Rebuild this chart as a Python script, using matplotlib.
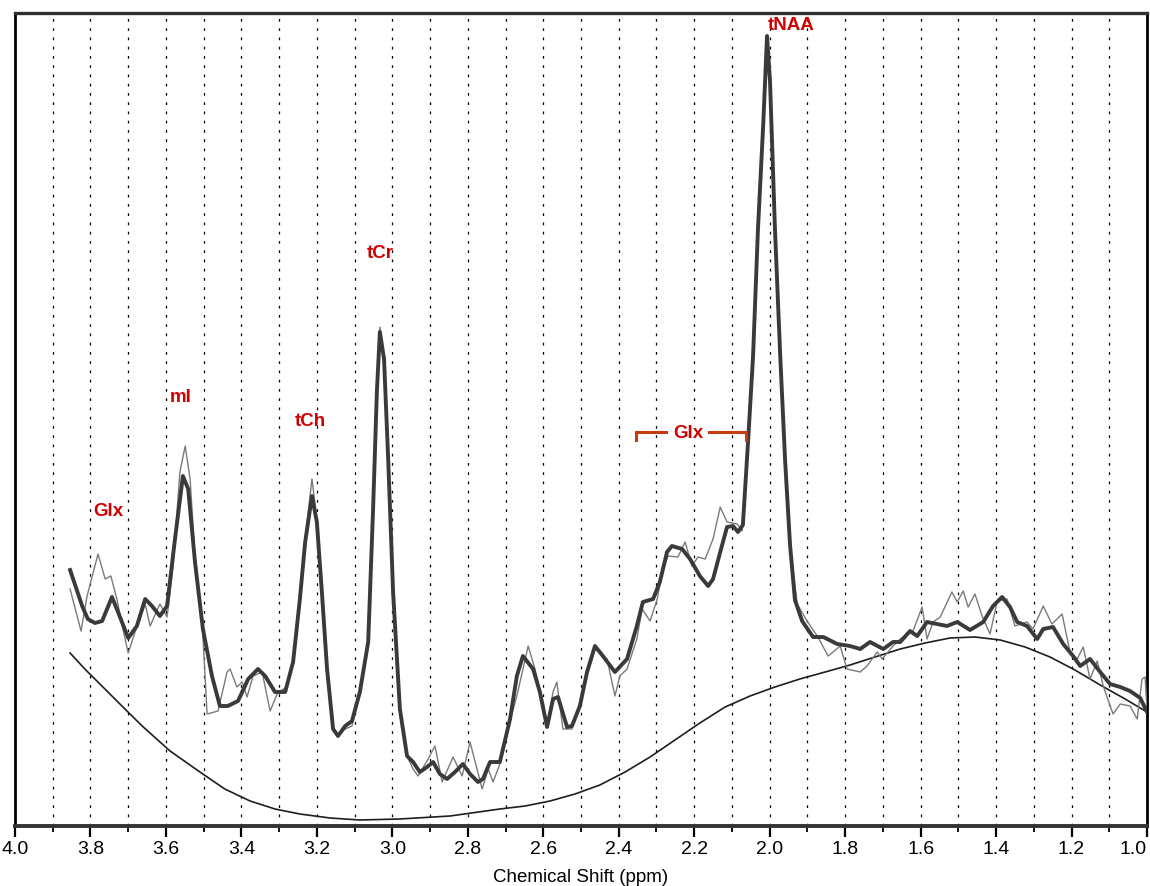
import numpy as np
import matplotlib
matplotlib.use("Agg")
import matplotlib.pyplot as plt
from matplotlib.ticker import FixedLocator

plt.rcParams['font.family'] = ['Liberation Sans', 'DejaVu Sans']

# ---------------- data (chemical shift in ppm, intensity in a.u.) ----------------
fit_ppm = [3.854, 3.822, 3.807, 3.788, 3.769, 3.743, 3.727, 3.700, 3.677, 3.655, 3.637, 3.616,
           3.597, 3.576, 3.555, 3.541, 3.523, 3.502, 3.478, 3.457, 3.436, 3.409, 3.382, 3.356,
           3.337, 3.311, 3.284, 3.263, 3.245, 3.231, 3.213, 3.200, 3.186, 3.173, 3.157, 3.144,
           3.125, 3.107, 3.086, 3.064, 3.051, 3.041, 3.033, 3.022, 3.011, 2.998, 2.980, 2.961,
           2.945, 2.927, 2.908, 2.892, 2.874, 2.855, 2.834, 2.813, 2.794, 2.773, 2.760, 2.741,
           2.715, 2.688, 2.670, 2.654, 2.627, 2.609, 2.590, 2.574, 2.561, 2.537, 2.524, 2.503,
           2.484, 2.463, 2.442, 2.410, 2.378, 2.352, 2.336, 2.309, 2.291, 2.272, 2.259, 2.232,
           2.211, 2.185, 2.163, 2.150, 2.131, 2.113, 2.097, 2.084, 2.071, 2.057, 2.044, 2.031,
           2.017, 2.007, 1.999, 1.986, 1.972, 1.959, 1.946, 1.933, 1.914, 1.885, 1.858, 1.821,
           1.787, 1.760, 1.734, 1.699, 1.673, 1.654, 1.628, 1.609, 1.583, 1.556, 1.530, 1.503,
           1.469, 1.434, 1.408, 1.384, 1.363, 1.344, 1.318, 1.291, 1.275, 1.249, 1.222, 1.196,
           1.177, 1.151, 1.124, 1.098, 1.071, 1.045, 1.018, 1.000]
fit_int = [25.6, 22.0, 20.7, 20.3, 20.5, 22.9, 21.4, 18.8, 20.0, 22.7, 22.0, 21.0,
           22.0, 28.7, 35.0, 33.7, 26.4, 19.7, 15.0, 12.0, 12.0, 12.5, 14.7, 15.7,
           15.0, 13.4, 13.4, 16.4, 22.7, 28.4, 33.0, 30.4, 23.0, 15.7, 9.7, 9.0,
           10.0, 10.5, 13.4, 18.4, 31.7, 43.4, 49.4, 46.7, 36.7, 23.4, 11.7, 7.0,
           6.4, 5.4, 5.9, 6.4, 5.2, 4.7, 5.4, 6.2, 5.2, 4.4, 4.7, 6.4,
           6.4, 10.7, 15.0, 17.0, 15.7, 13.4, 9.9, 12.7, 12.9, 9.9, 10.0, 12.0,
           15.4, 18.0, 17.0, 15.4, 16.7, 20.0, 22.4, 22.7, 24.4, 27.4, 28.0, 27.7,
           26.7, 25.0, 24.0, 24.7, 27.4, 29.9, 30.0, 29.4, 30.1, 38.6, 47.0, 59.7,
           70.2, 79.0, 74.4, 59.7, 47.0, 36.5, 28.1, 22.6, 20.5, 18.9, 18.9, 18.2,
           18.0, 17.7, 18.4, 17.7, 18.4, 18.4, 19.5, 19.0, 20.4, 20.2, 20.0, 20.4,
           19.6, 20.4, 22.0, 22.9, 21.9, 20.4, 20.0, 18.7, 19.7, 19.9, 18.2, 17.0,
           16.0, 16.7, 15.4, 14.2, 13.9, 13.5, 12.8, 11.4]

raw_ppm = [3.854, 3.825, 3.809, 3.780, 3.761, 3.746, 3.730, 3.714, 3.700, 3.682, 3.655, 3.642,
           3.616, 3.597, 3.581, 3.563, 3.549, 3.536, 3.523, 3.504, 3.491, 3.462, 3.438, 3.430,
           3.412, 3.398, 3.385, 3.369, 3.345, 3.324, 3.303, 3.279, 3.263, 3.245, 3.231, 3.213,
           3.200, 3.186, 3.173, 3.157, 3.144, 3.125, 3.107, 3.086, 3.064, 3.051, 3.041, 3.033,
           3.022, 3.011, 2.998, 2.980, 2.961, 2.945, 2.932, 2.908, 2.887, 2.868, 2.839, 2.815,
           2.794, 2.762, 2.746, 2.733, 2.715, 2.696, 2.670, 2.640, 2.622, 2.603, 2.590, 2.574,
           2.564, 2.548, 2.524, 2.508, 2.484, 2.463, 2.431, 2.410, 2.397, 2.378, 2.352, 2.338,
           2.317, 2.298, 2.283, 2.269, 2.243, 2.224, 2.206, 2.190, 2.171, 2.150, 2.131, 2.113,
           2.086, 2.073, 2.057, 2.044, 2.031, 2.017, 2.007, 1.999, 1.986, 1.972, 1.959, 1.946,
           1.927, 1.901, 1.874, 1.845, 1.813, 1.795, 1.760, 1.742, 1.715, 1.702, 1.673, 1.654,
           1.633, 1.620, 1.596, 1.583, 1.567, 1.548, 1.517, 1.503, 1.487, 1.474, 1.456, 1.437,
           1.416, 1.397, 1.371, 1.350, 1.318, 1.302, 1.275, 1.252, 1.225, 1.204, 1.185, 1.169,
           1.151, 1.132, 1.116, 1.090, 1.071, 1.045, 1.026, 1.013, 1.005, 1.000]
raw_int = [23.7, 19.5, 23.0, 27.2, 24.7, 25.0, 22.7, 19.7, 17.3, 19.4, 22.2, 20.0,
           22.2, 20.9, 26.0, 35.4, 38.0, 34.7, 27.0, 20.4, 11.2, 11.5, 15.4, 15.7,
           13.9, 14.4, 12.9, 15.0, 15.4, 11.5, 13.4, 13.9, 16.7, 22.9, 28.7, 34.7,
           30.7, 23.0, 15.7, 9.7, 9.0, 9.7, 10.0, 13.2, 18.4, 31.7, 43.7, 49.9,
           46.9, 36.7, 23.4, 11.7, 7.0, 5.7, 5.0, 6.5, 8.0, 4.4, 6.9, 5.0,
           8.4, 3.7, 5.7, 4.4, 6.2, 9.4, 13.0, 18.0, 15.7, 12.7, 10.0, 13.4,
           14.4, 9.7, 9.7, 11.7, 15.0, 17.7, 16.7, 13.0, 15.0, 15.7, 18.7, 21.7,
           20.5, 22.7, 25.7, 27.0, 26.9, 28.4, 26.0, 26.9, 26.7, 28.7, 31.9, 30.4,
           30.2, 29.5, 38.6, 47.0, 59.7, 70.2, 78.7, 74.2, 59.7, 47.0, 36.5, 28.1,
           22.2, 20.5, 19.0, 17.0, 18.0, 15.7, 15.4, 16.0, 17.4, 16.7, 18.0, 18.7,
           19.2, 19.5, 21.9, 18.7, 20.4, 20.9, 23.4, 22.4, 23.5, 21.9, 23.2, 21.0,
           19.2, 22.5, 22.7, 20.0, 20.4, 19.7, 22.0, 20.2, 21.2, 17.4, 16.7, 17.9,
           14.7, 16.5, 14.0, 11.2, 12.2, 12.0, 10.7, 14.7, 14.9, 11.7]

base_ppm = [3.854, 3.815, 3.775, 3.722, 3.663, 3.589, 3.510, 3.444, 3.377, 3.311, 3.245, 3.165,
            3.086, 2.980, 2.847, 2.715, 2.648, 2.582, 2.516, 2.450, 2.383, 2.317, 2.251, 2.185,
            2.118, 2.052, 1.986, 1.920, 1.853, 1.787, 1.721, 1.654, 1.588, 1.522, 1.456, 1.389,
            1.323, 1.257, 1.191, 1.124, 1.058, 1.000]
base_int = [17.3, 15.7, 14.2, 12.2, 10.0, 7.5, 5.4, 3.7, 2.5, 1.7, 1.2, 0.8,
            0.6, 0.7, 1.0, 1.7, 2.0, 2.5, 3.2, 4.1, 5.4, 6.9, 8.6, 10.3,
            11.9, 13.0, 13.9, 14.7, 15.4, 16.1, 16.9, 17.7, 18.3, 18.8, 18.9, 18.6,
            17.9, 16.9, 15.6, 14.1, 12.7, 11.4]

peak_labels = ["Glx", "mI", "tCh", "tCr"]
peak_label_ppm = [3.754, 3.560, 3.218, 3.033]
peak_label_int = [31.6, 43.0, 40.6, 57.4]

naa_label = "tNAA"
naa_label_ppm = 2.006
naa_label_int = 80.2

glx_label = "Glx"
glx_range = [2.354, 2.063]
glx_center = 2.216
glx_level = 39.4
glx_tick_bottom = 38.6

major_ticks = [4.0, 3.8, 3.6, 3.4, 3.2, 3.0, 2.8, 2.6, 2.4, 2.2, 2.0, 1.8, 1.6, 1.4, 1.2, 1.0]
minor_ticks = [3.9, 3.7, 3.5, 3.3, 3.1, 2.9, 2.7, 2.5, 2.3, 2.1, 1.9, 1.7, 1.5, 1.3, 1.1]
grid_ppm = [3.9, 3.8, 3.7, 3.6, 3.5, 3.4, 3.3, 3.2, 3.1, 3.0, 2.9, 2.8, 2.7, 2.6, 2.5,
            2.4, 2.3, 2.2, 2.1, 2.0, 1.9, 1.8, 1.7, 1.6, 1.5, 1.4, 1.3, 1.2, 1.1]

# ---------------- figure ----------------
fig = plt.figure(figsize=(11.5, 8.87), dpi=100)
ax = fig.add_axes([15 / 1150, 1 - 827 / 887, (1147 - 15) / 1150, (827 - 14) / 887])

ax.set_xlim(4.0, 1.0)
ax.set_ylim(0, 81.3)

for g in grid_ppm:
    ax.axvline(g, color='black', lw=0.9, linestyle=(0, (2.2, 5.2)), zorder=1)

ax.plot(base_ppm, base_int, color='#1e1e1e', lw=1.2, zorder=2)
ax.plot(raw_ppm, raw_int, color='#7a7a7a', lw=1.0, zorder=3)
ax.plot(fit_ppm, fit_int, color='#3a3a3a', lw=2.8, zorder=4, solid_joinstyle='round')

red = '#d00000'
for lab, px, py in zip(peak_labels, peak_label_ppm, peak_label_int):
    ax.text(px, py, lab, color=red, fontsize=13.5, fontweight='bold',
            ha='center', va='center', zorder=6)
ax.text(naa_label_ppm, naa_label_int, naa_label, color=red, fontsize=13.5,
        fontweight='bold', ha='left', va='center', zorder=6)

bracket_color = '#c83a10'
ax.plot([glx_range[0], glx_range[0], glx_range[1], glx_range[1]],
        [glx_tick_bottom, glx_level, glx_level, glx_tick_bottom],
        color=bracket_color, lw=2.2, zorder=5, solid_joinstyle='miter')
ax.text(glx_center, glx_level, glx_label, color=red, fontsize=13.5, fontweight='bold',
        ha='center', va='center', zorder=6,
        bbox=dict(boxstyle='square,pad=0.25', fc='white', ec='none'))

# axes styling
ax.set_yticks([])
ax.xaxis.set_major_locator(FixedLocator(major_ticks))
ax.xaxis.set_minor_locator(FixedLocator(minor_ticks))
ax.set_xticklabels([f"{t:.1f}" for t in major_ticks])
ax.tick_params(axis='x', which='major', direction='out', length=8, width=1.6,
               labelsize=14, pad=2, colors='black')
ax.tick_params(axis='x', which='minor', direction='out', length=4.5, width=1.3)
labels = ax.get_xticklabels()
labels[-1].set_horizontalalignment('right')
for s in ['left', 'right']:
    ax.spines[s].set_linewidth(2.0)
    ax.spines[s].set_color('black')
ax.spines['top'].set_linewidth(2.4)
ax.spines['top'].set_color('#303030')
ax.spines['bottom'].set_linewidth(2.8)
ax.spines['bottom'].set_color('#333333')

ax.set_xlabel("Chemical Shift (ppm)", fontsize=13.5, labelpad=8)

fig.savefig("out.png", dpi=100)
